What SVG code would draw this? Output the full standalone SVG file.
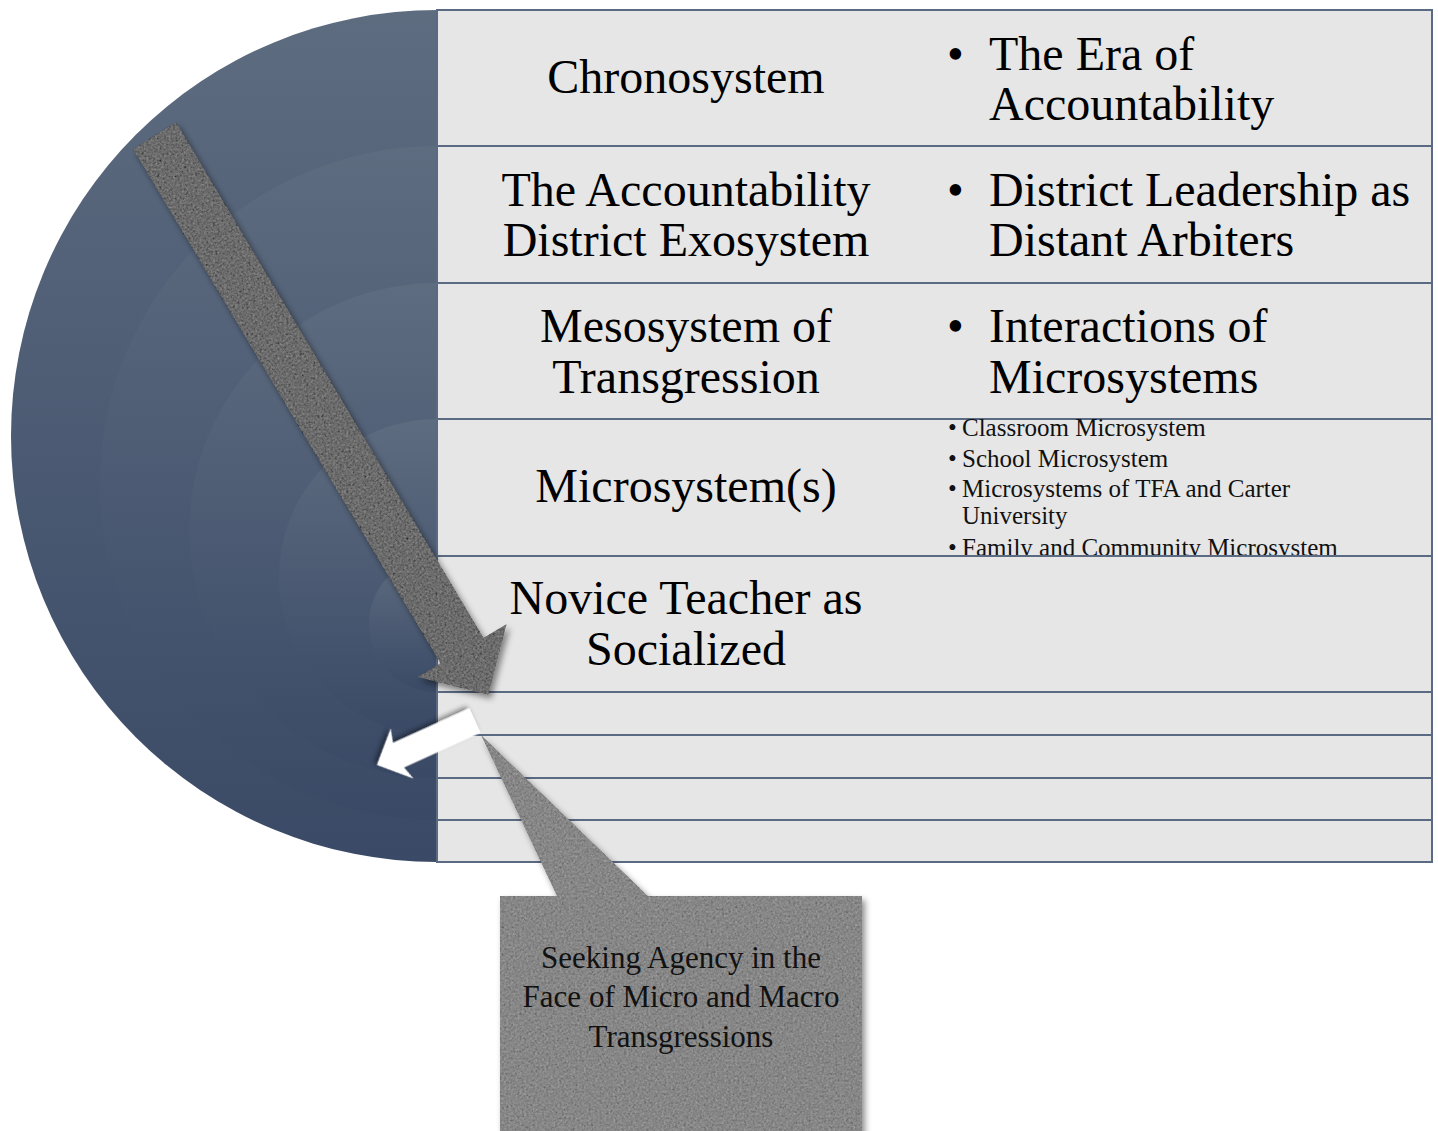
<svg xmlns="http://www.w3.org/2000/svg" width="1438" height="1131" viewBox="0 0 1438 1131">
<defs>
  <style>
    .big { font-family: "Liberation Serif", "Times New Roman", serif; font-size: 48px; fill: #000; }
    .mid { text-anchor: middle; }
    .small { font-family: "Liberation Serif", "Times New Roman", serif; font-size: 25px; fill: #111; }
    .call { font-family: "Liberation Serif", "Times New Roman", serif; font-size: 31px; fill: #111; text-anchor: middle; }
    .cell { fill: #e6e6e6; stroke: #5a6a82; stroke-width: 2; }
  </style>
  <linearGradient id="blueG" x1="0" y1="0" x2="0" y2="1">
    <stop offset="0" stop-color="#5e6c80"/>
    <stop offset="1" stop-color="#3a4a66"/>
  </linearGradient>
  <filter id="grain" x="-5%" y="-5%" width="115%" height="115%">
    <feTurbulence type="fractalNoise" baseFrequency="0.45" numOctaves="3" seed="7" result="t"/>
    <feColorMatrix in="t" type="matrix" values="0.33 0.33 0.33 0 0  0.33 0.33 0.33 0 0  0.33 0.33 0.33 0 0  0 0 0 0 1" result="g"/>
    <feComposite in="SourceGraphic" in2="g" operator="arithmetic" k1="0" k2="1" k3="0.45" k4="-0.225" result="noisy"/>
    <feComposite in="noisy" in2="SourceGraphic" operator="in" result="clip"/>
    <feGaussianBlur in="SourceAlpha" stdDeviation="3" result="b"/>
    <feOffset in="b" dx="3" dy="4" result="o"/>
    <feColorMatrix in="o" type="matrix" values="0 0 0 0 0  0 0 0 0 0  0 0 0 0 0  0 0 0 0.45 0" result="sh"/>
    <feMerge><feMergeNode in="sh"/><feMergeNode in="clip"/></feMerge>
  </filter>
  <filter id="shadow" x="-20%" y="-20%" width="150%" height="150%">
    <feGaussianBlur in="SourceAlpha" stdDeviation="2.5" result="b"/>
    <feOffset in="b" dx="2" dy="3" result="o"/>
    <feColorMatrix in="o" type="matrix" values="0 0 0 0 0  0 0 0 0 0  0 0 0 0 0  0 0 0 0.45 0" result="sh"/>
    <feMerge><feMergeNode in="sh"/><feMergeNode in="SourceGraphic"/></feMerge>
  </filter>
</defs>

<rect width="1438" height="1131" fill="#ffffff"/>

<g id="nested-semicircles">
  <path d="M437,10 A426,426 0 0 0 437,862 Z" fill="url(#blueG)"/>
  <path d="M437,146 A337,337 0 0 0 437,820 Z" fill="url(#blueG)"/>
  <path d="M437,283 A247.5,247.5 0 0 0 437,778 Z" fill="url(#blueG)"/>
  <path d="M437,419 A158,158 0 0 0 437,735 Z" fill="url(#blueG)"/>
  <path d="M437,556 A68,68 0 0 0 437,692 Z" fill="url(#blueG)"/>
</g>

<g id="row-chronosystem">
  <rect class="cell" x="437" y="10" width="995" height="136"/>
  <text class="big mid" x="686" y="93">Chronosystem</text>
  <text class="big" x="947" y="70">•</text>
  <text class="big" x="989" y="70">The Era of</text>
  <text class="big" x="989" y="120">Accountability</text>
</g>

<g id="row-exosystem">
  <rect class="cell" x="437" y="146" width="995" height="137"/>
  <text class="big mid" x="686" y="206">The Accountability</text>
  <text class="big mid" x="686" y="256">District Exosystem</text>
  <text class="big" x="947" y="206">•</text>
  <text class="big" x="989" y="206">District Leadership as</text>
  <text class="big" x="989" y="256">Distant Arbiters</text>
</g>

<g id="row-mesosystem">
  <rect class="cell" x="437" y="283" width="995" height="136"/>
  <text class="big mid" x="686" y="342">Mesosystem of</text>
  <text class="big mid" x="686" y="393">Transgression</text>
  <text class="big" x="947" y="342">•</text>
  <text class="big" x="989" y="342">Interactions of</text>
  <text class="big" x="989" y="393">Microsystems</text>
</g>

<g id="row-microsystems">
  <rect class="cell" x="437" y="419" width="995" height="137"/>
  <text class="big mid" x="686" y="502">Microsystem(s)</text>
  <text class="small" x="948" y="436">•</text>
  <text class="small" x="962" y="436">Classroom Microsystem</text>
  <text class="small" x="948" y="467">•</text>
  <text class="small" x="962" y="467">School Microsystem</text>
  <text class="small" x="948" y="497">•</text>
  <text class="small" x="962" y="497">Microsystems of TFA and Carter</text>
  <text class="small" x="962" y="524">University</text>
  <text class="small" x="948" y="556">•</text>
  <text class="small" x="962" y="556">Family and Community Microsystem</text>
</g>

<g id="row-novice-teacher">
  <rect class="cell" x="437" y="556" width="995" height="136"/>
  <text class="big mid" x="686" y="614">Novice Teacher as</text>
  <text class="big mid" x="686" y="665">Socialized</text>
</g>

<g id="empty-rows">
  <rect class="cell" x="437" y="692" width="995" height="43"/>
  <rect class="cell" x="437" y="735" width="995" height="43"/>
  <rect class="cell" x="437" y="778" width="995" height="42"/>
  <rect class="cell" x="437" y="820" width="995" height="42"/>
</g>

<g id="callout-seeking-agency">
  <path d="M500,896 L557,896 L481,735 L648,896 L862,896 L862,1140 L500,1140 Z" fill="#878787" filter="url(#grain)"/>
  <text class="call" x="681" y="968">Seeking Agency in the</text>
  <text class="call" x="681" y="1007">Face of Micro and Macro</text>
  <text class="call" x="681" y="1047">Transgressions</text>
</g>

<g id="connectors">
  <polygon id="arrow-socialization" points="133,149 176,122 483.5,637.8 506.7,624 488.3,694.8 417.3,677 440.5,663.2" fill="#6c6c6c" filter="url(#grain)"/>
  <polygon id="arrow-agency" transform="translate(475,720.5) rotate(155.6)" points="0,-13.5 84,-13.5 80,-27.5 107.6,0 80,27.5 84,13.5 0,13.5" fill="#ffffff" filter="url(#shadow)"/>
</g>
</svg>
